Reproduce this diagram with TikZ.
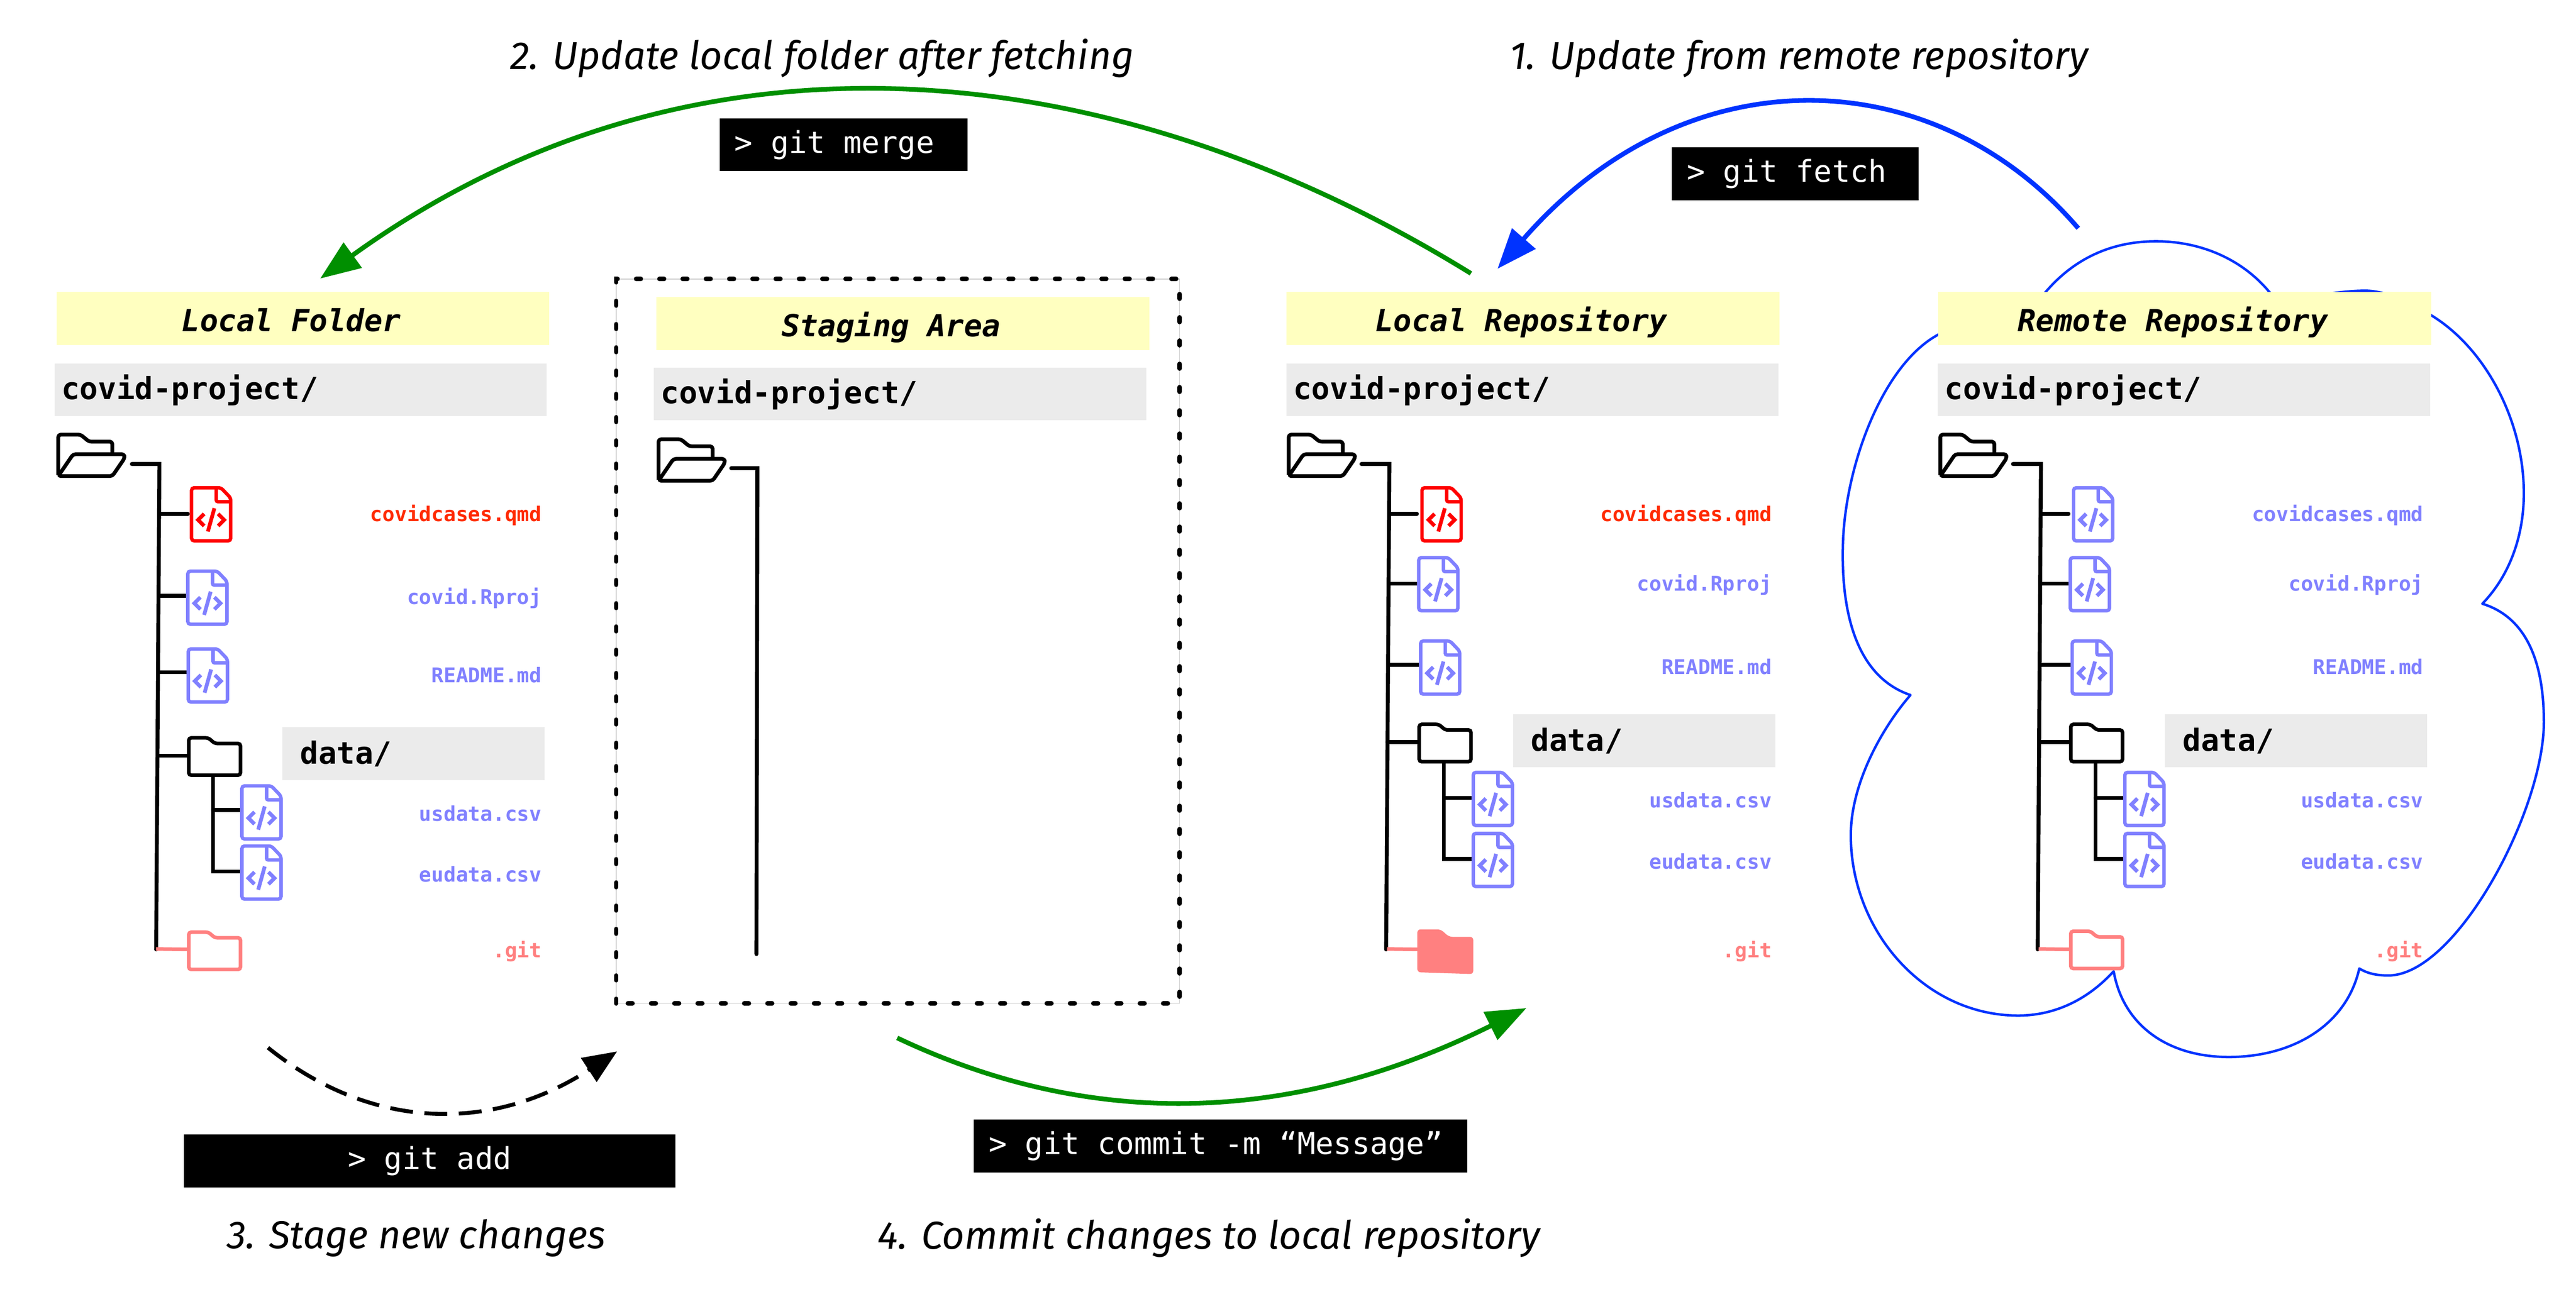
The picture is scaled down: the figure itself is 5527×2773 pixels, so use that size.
\documentclass[tikz,border=0pt]{standalone}
\usepackage{fontspec}
\setmainfont{Fira Sans}
\setmonofont{DejaVu Sans Mono}
\usetikzlibrary{arrows.meta}
\definecolor{barY}{HTML}{FFFFC0}
\definecolor{barG}{HTML}{EBEBEB}
\definecolor{fileB}{HTML}{8080FF}
\definecolor{gitP}{HTML}{FF8080}
\definecolor{qmdR}{HTML}{FF2A00}
\definecolor{arrG}{HTML}{008F00}
\definecolor{arrB}{HTML}{0033FF}
\newcommand{\bartitle}[1]{\raisebox{-0.27cm}[0pt][0pt]{#1}\hspace{0.5cm}\null}
\newcommand{\cmdtext}[1]{\raisebox{-0.18cm}[0pt][0pt]{#1}}
\tikzset{
  x=0.01cm,y=-0.01cm,
  titlebar/.style={fill=barY,inner sep=0pt,minimum width=10.57cm,minimum height=1.14cm,font=\ttfamily\bfseries\itshape\fontsize{18.5}{22}\selectfont},
  pathbar/.style={fill=barG,inner sep=0pt,inner xsep=0.15cm,minimum width=10.56cm,minimum height=1.13cm,text width=10.26cm,align=flush left,font=\ttfamily\bfseries\fontsize{18.6}{22}\selectfont},
  databar/.style={fill=barG,inner sep=0pt,inner xsep=0.38cm,minimum width=5.62cm,minimum height=1.14cm,text width=4.86cm,align=flush left,font=\ttfamily\bfseries\fontsize{18.6}{22}\selectfont},
  fname/.style={anchor=east,inner sep=0pt,font=\ttfamily\bfseries\fontsize{12.4}{15}\selectfont},
  cmdbox/.style={fill=black,text=white,inner sep=0pt,minimum height=1.13cm,font=\ttfamily\fontsize{18.4}{22}\selectfont},
  caption/.style={inner sep=0pt,font=\itshape\fontsize{23.8}{28}\selectfont},
  treeline/.style={line width=2.4pt,line cap=round,line join=miter,black},
  bigarrow/.style={line width=2.85pt,-{Triangle[length=24.5pt,width=18.5pt]}},
  pics/fileicon/.style={code={
    \draw[#1,line width=2.1pt,rounded corners=1.6pt,fill=white] (4,118) -- (4,4) -- (67,4) -- (88,26) -- (88,118) -- cycle;
    \draw[#1,line width=2.1pt,rounded corners=1pt] (57,4) -- (57,34) -- (88,34);
    \draw[#1,line width=2.3pt] (31,60) -- (18,73) -- (31,86);
    \draw[#1,line width=2.3pt] (61,60) -- (74,73) -- (61,86);
    \draw[#1,line width=2.3pt] (53,48) -- (39,98);
  }},
  pics/closedfolder/.style={code={
    \draw[#1,line width=2.2pt,rounded corners=1.5pt,fill=white] (4,84) -- (4,4) -- (46,4) -- (60,16) -- (115,16) -- (115,84) -- cycle;
  }},
  pics/filledfolder/.style={code={
    \fill[#1,rounded corners=2pt] (0,92) -- (0,0) -- (50,0) -- (68,16) -- (120,16) -- (120,96) -- cycle;
  }},
  pics/openfolder/.style={code={
    \draw[black,line width=2.3pt,rounded corners=1.5pt,line join=round] (4,92) -- (4,5) -- (52,5) -- (70,20) -- (120,20) -- (120,44);
    \draw[black,line width=2.3pt,rounded corners=1.5pt,line join=round] (4,94) -- (36,47) -- (146,47) -- (146,56) -- (120,94) -- cycle;
  }},
}
% #1 prefix, #2 x shift, #3 title, #4 first file colour, #5 first label colour, #6 git pic
\newcommand{\repopanel}[6]{%
\begin{scope}[shift={(#2,0)}]
  \node[titlebar] (#1title) at (3289,684) {\bartitle{#3}};
  \node[pathbar] (#1path) at (3288,837) {covid-project/};
  \pic at (2761,928) {openfolder};
  \draw[treeline] (2921,996) -- (2981,996) -- (2974,2038);
  \draw[treeline] (2981,1103) -- (3040,1103);
  \draw[treeline] (2980,1253) -- (3040,1253);
  \draw[treeline] (2979,1427) -- (3044,1427);
  \draw[treeline] (2977,1593) -- (3043,1593);
  \draw[treeline] (3098,1636) -- (3098,1844) -- (3157,1844);
  \draw[treeline] (3098,1713) -- (3157,1713);
  \draw[gitP,line width=2.2pt] (2976,2037) -- (3043,2038);
  \pic at (3047,1043) {fileicon=#4};
  \pic at (3040,1193) {fileicon=fileB};
  \pic at (3044,1372) {fileicon=fileB};
  \pic at (3041,1551) {closedfolder=black};
  \pic at (3157,1654) {fileicon=fileB};
  \pic at (3157,1785) {fileicon=fileB};
  \pic at (3041,1995) {#6};
  \node[databar] (#1data) at (3528,1590) {data/};
  \node[fname,text=#5] (#1a) at (3802,1106) {covidcases.qmd};
  \node[fname,text=fileB] (#1b) at (3802,1255) {covid.Rproj};
  \node[fname,text=fileB] (#1c) at (3802,1431) {README.md};
  \node[fname,text=fileB] (#1d) at (3802,1718) {usdata.csv};
  \node[fname,text=fileB] (#1e) at (3802,1849) {eudata.csv};
  \node[fname,text=gitP] (#1f) at (3802,2042) {.git};
\end{scope}}
\begin{document}
\begin{tikzpicture}
\useasboundingbox (0,0) rectangle (5527,2773);
\fill[white] (0,0) rectangle (5527,2773);
% remote cloud
\draw[arrB,line width=1.5pt,line join=round] (4099,1492)
  .. controls (3990,1455) and (3950,1330) .. (3954,1171)
  .. controls (3958,1000) and (4040,780) .. (4161,717)
  .. controls (4240,690) and (4330,690) .. (4388,628)
  .. controls (4450,555) and (4530,518) .. (4626,518)
  .. controls (4720,518) and (4810,555) .. (4870,628)
  .. controls (4900,660) and (4980,624) .. (5075,624)
  .. controls (5120,624) and (5170,650) .. (5215,676)
  .. controls (5330,745) and (5415,900) .. (5415,1059)
  .. controls (5415,1150) and (5385,1235) .. (5326,1296)
  .. controls (5420,1325) and (5458,1420) .. (5458,1550)
  .. controls (5458,1740) and (5270,2094) .. (5124,2094)
  .. controls (5100,2094) and (5080,2090) .. (5062,2079)
  .. controls (5035,2200) and (4920,2269) .. (4782,2269)
  .. controls (4650,2269) and (4555,2200) .. (4535,2085)
  .. controls (4480,2145) and (4410,2180) .. (4330,2180)
  .. controls (4130,2180) and (3971,2000) .. (3971,1793)
  .. controls (3971,1680) and (4040,1560) .. (4099,1492) -- cycle;
% staging border
\draw[black!20,line width=0.4pt] (1322,599) rectangle (2531,2154);
\draw[black,line width=2.8pt,line cap=round,dash pattern=on 2.8pt off 11.4pt] (1322,2154) -- (1322,599) -- (2531,599) -- (2531,2154) -- (1322,2154);
% local folder panel
\node[titlebar] (lfT) at (650,684) {\bartitle{Local Folder}};
\node[pathbar] (lfP) at (645,837) {covid-project/};
\pic at (121,928) {openfolder};
\draw[treeline] (283,996) -- (342,996) -- (335,2038);
\draw[treeline] (342,1103) -- (403,1103);
\draw[treeline] (341,1279) -- (400,1279);
\draw[treeline] (340,1443) -- (400,1443);
\draw[treeline] (339,1622) -- (402,1622);
\draw[treeline] (457,1665) -- (457,1871) -- (516,1871);
\draw[treeline] (457,1739) -- (516,1739);
\draw[gitP,line width=2.2pt] (335,2037) -- (402,2038);
\pic at (407,1043) {fileicon=red};
\pic at (399,1222) {fileicon=fileB};
\pic at (400,1389) {fileicon=fileB};
\pic at (401,1580) {closedfolder=black};
\pic at (515,1683) {fileicon=fileB};
\pic at (515,1812) {fileicon=fileB};
\pic at (401,1997) {closedfolder=gitP};
\node[databar] (lfD) at (887,1618) {data/};
\node[fname,text=qmdR] (lf1) at (1163,1106) {covidcases.qmd};
\node[fname,text=fileB] (lf2) at (1163,1284) {covid.Rproj};
\node[fname,text=fileB] (lf3) at (1163,1449) {README.md};
\node[fname,text=fileB] (lf4) at (1163,1746) {usdata.csv};
\node[fname,text=fileB] (lf5) at (1163,1877) {eudata.csv};
\node[fname,text=gitP] (lf6) at (1163,2042) {.git};
% staging panel
\node[titlebar] (saT) at (1937,695) {\bartitle{Staging Area}};
\node[pathbar] (saP) at (1931,846) {covid-project/};
\pic at (1409,938) {openfolder};
\draw[treeline] (1569,1005) -- (1625,1005) -- (1623,2048);
% repositories
\repopanel{lr}{0}{Local Repository}{red}{qmdR}{filledfolder=gitP}
\repopanel{rr}{1398}{Remote Repository}{fileB}{fileB}{closedfolder=gitP}
% commands
\node[cmdbox,minimum width=5.32cm,text width=4.68cm,align=flush left] (cMerge) at (1810,311) {\cmdtext{> git merge}};
\node[cmdbox,minimum width=5.29cm,text width=4.65cm,align=flush left] (cFetch) at (3852,373) {\cmdtext{> git fetch}};
\node[cmdbox,minimum width=10.54cm] (cAdd) at (922,2492) {\cmdtext{> git add}};
\node[cmdbox,minimum width=10.58cm,text width=9.94cm,align=flush left] (cCommit) at (2619,2460) {\cmdtext{> git commit -m “Message”}};
% captions
\node[caption] (t2) at (1764,125) {2. Update local folder after fetching};
\node[caption] (t1) at (3860,125) {1. Update from remote repository};
\node[caption] (t3) at (893,2658) {3. Stage new changes};
\node[caption] (t4) at (2594,2658) {4. Commit changes to local repository};
% arrows
\coordinate (m0) at (3156,587);\coordinate (m1) at (687,598);
\coordinate (f0) at (4459,490);\coordinate (f1) at (3213,577);
\coordinate (a0) at (575,2249);\coordinate (a1) at (1324,2257);
\coordinate (c0) at (1925,2228);\coordinate (c1) at (3275,2164);
\draw[bigarrow,arrG] (m0) .. controls (2400,120) and (1500,12) .. (m1);
\draw[bigarrow,arrB] (f0) .. controls (4150,130) and (3620,110) .. (f1);
\draw[black,line width=2.4pt,dash pattern=on 14pt off 7pt,-{Triangle[length=20.7pt,width=17pt]}] (a0) .. controls (800,2430) and (1060,2430) .. (a1);
\draw[bigarrow,arrG] (c0) .. controls (2330,2420) and (2760,2420) .. (c1);
\end{tikzpicture}
\end{document}
